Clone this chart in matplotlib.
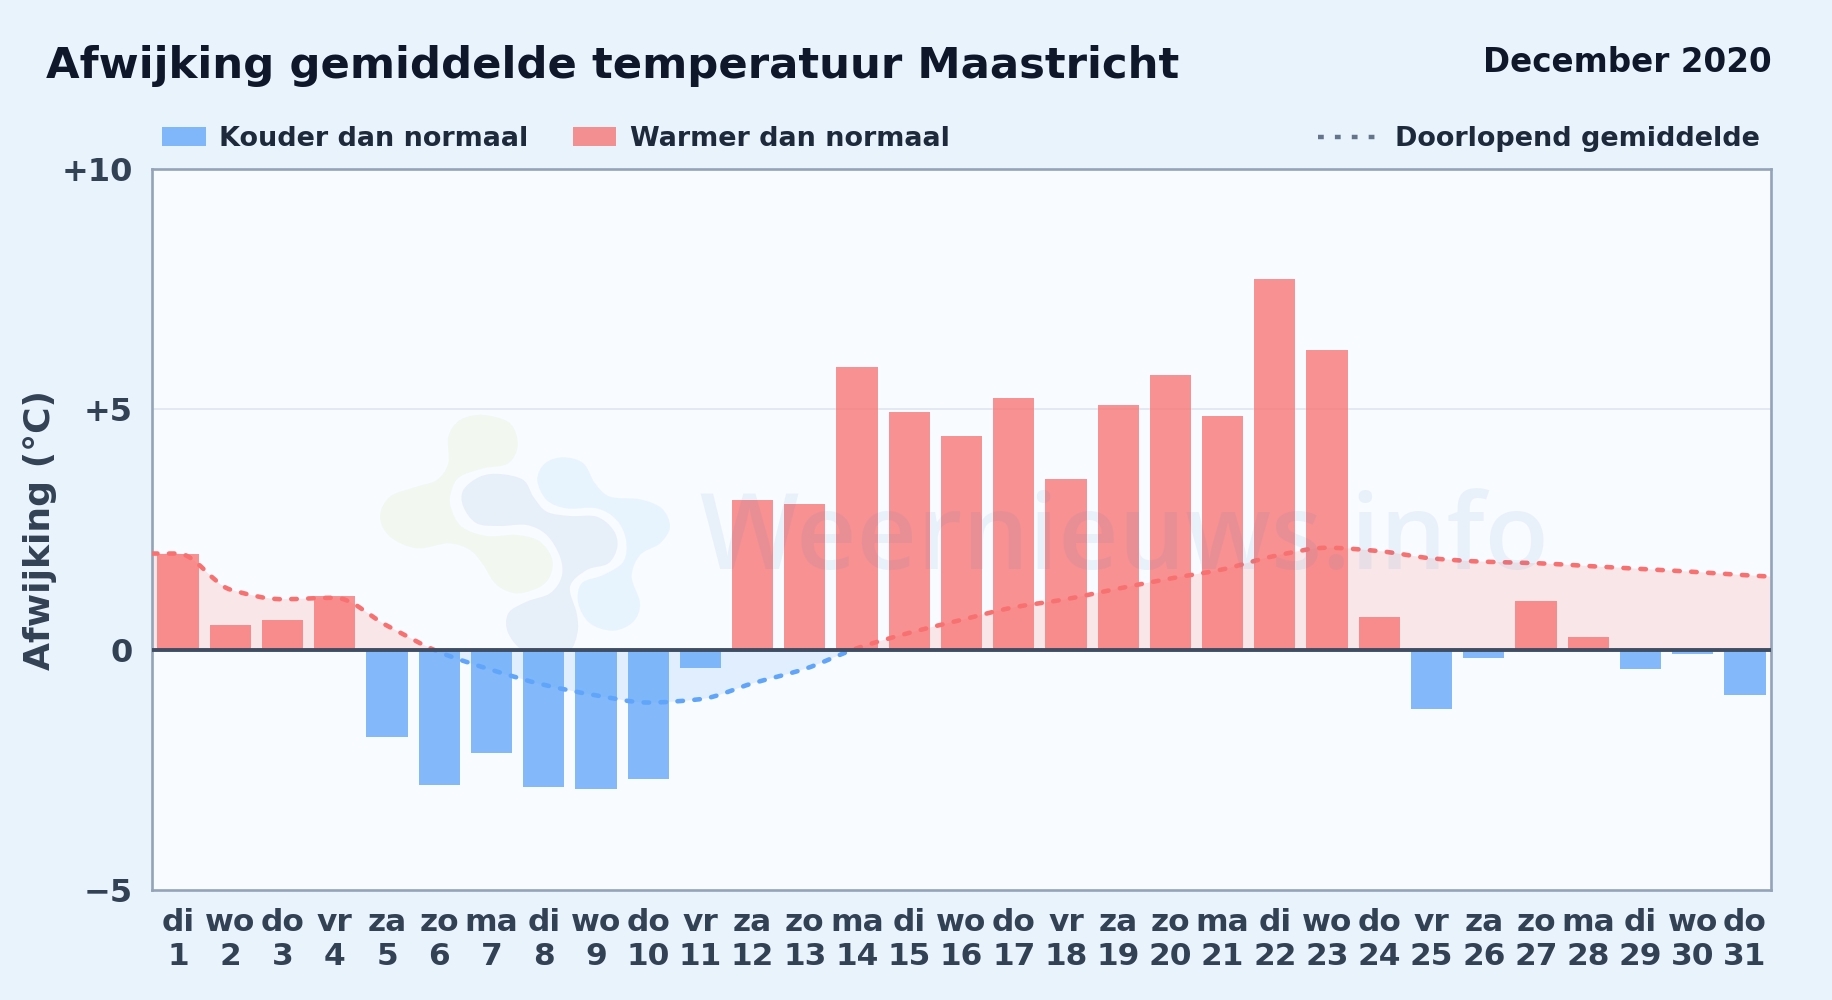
import numpy as np
from matplotlib import pyplot as plt
from matplotlib.lines import Line2D
from matplotlib.patches import PathPatch, Rectangle
from matplotlib.path import Path

plt.rcParams['font.family'] = ['DejaVu Sans']

weekdays = ['di', 'wo', 'do', 'vr', 'za', 'zo', 'ma'] * 5
weekdays = weekdays[:31]
days = list(range(1, 32))
deviation = [2.0, 0.51, 0.61, 1.12, -1.82, -2.82, -2.14, -2.85, -2.9, -2.7, -0.39,
             3.11, 3.04, 5.89, 4.94, 4.45, 5.23, 3.55, 5.08, 5.72, 4.87, 7.71, 6.23,
             0.68, -1.24, -0.17, 1.02, 0.27, -0.41, -0.1, -0.95]
running_mean = [2.0, 1.25, 1.05, 1.08, 0.5, -0.05, -0.42, -0.73, -0.95, -1.1, -1.03,
                -0.7, -0.4, 0.03, 0.35, 0.62, 0.88, 1.05, 1.27, 1.48, 1.67, 1.95, 2.12,
                2.05, 1.9, 1.83, 1.8, 1.74, 1.68, 1.62, 1.55]
mean_left_edge = 2.0
mean_right_edge = 1.52
y_ticks = [-5, 0, 5, 10]
y_labels = ['\u22125', '0', '+5', '+10']

# logo outlines, traced in pixels of a 3x crop starting at (340, 380)
logo_green = [(430, 105), (510, 130), (533, 195), (505, 250), (430, 265), (360, 290), (335, 330),
              (332, 380), (365, 440), (440, 468), (530, 465), (600, 485), (638, 545), (615, 610),
              (535, 640), (470, 615), (430, 555), (390, 510), (325, 490), (230, 505), (150, 470),
              (120, 410), (150, 350), (230, 320), (290, 300), (325, 250), (325, 170), (360, 120)]
logo_navy = [(480, 282), (550, 300), (580, 350), (620, 395), (690, 408), (770, 410), (820, 450),
             (832, 500), (805, 550), (740, 570), (690, 620), (710, 700), (712, 760), (680, 815),
             (560, 815), (505, 760), (505, 700), (560, 665), (630, 640), (665, 590), (660, 530),
             (620, 465), (560, 435), (480, 438), (410, 430), (370, 380), (370, 330), (420, 290)]
logo_blue = [(670, 232), (730, 250), (765, 310), (810, 350), (900, 358), (965, 385), (990, 440),
             (960, 490), (900, 525), (875, 590), (900, 670), (880, 725), (820, 752), (750, 730),
             (715, 670), (725, 610), (790, 585), (850, 545), (858, 480), (830, 420), (770, 385),
             (680, 385), (620, 360), (592, 300), (615, 250)]

W, H = 1832, 1000
RED = '#f87171'
BLUE = '#60a5fa'
BG = '#e8f3fc'
PLOT_BG = '#f8fbff'


def px(x, y):
    return x / W, 1 - y / H


def smooth_path(x, y):
    # monotone cubic through the points, as bezier segments
    x = np.asarray(x, float)
    y = np.asarray(y, float)
    h = np.diff(x)
    s = np.diff(y) / h
    m = np.zeros(len(x))
    m[0], m[-1] = s[0], s[-1]
    for i in range(1, len(x) - 1):
        if s[i - 1] * s[i] > 0:
            m[i] = 2 * s[i - 1] * s[i] / (s[i - 1] + s[i])
    verts = [(x[0], y[0])]
    codes = [Path.MOVETO]
    for i in range(len(h)):
        verts += [(x[i] + h[i] / 3, y[i] + m[i] * h[i] / 3),
                  (x[i + 1] - h[i] / 3, y[i + 1] - m[i + 1] * h[i] / 3),
                  (x[i + 1], y[i + 1])]
        codes += [Path.CURVE4] * 3
    return verts, codes


def blob_path(points):
    # closed catmull-rom curve through the outline
    p = np.array([(340 + a / 3, 380 + b / 3) for a, b in points])
    n = len(p)
    verts = [tuple(p[0])]
    codes = [Path.MOVETO]
    for i in range(n):
        p0, p1, p2, p3 = p[i - 1], p[i], p[(i + 1) % n], p[(i + 2) % n]
        verts += [tuple(p1 + (p2 - p0) / 6), tuple(p2 - (p3 - p1) / 6), tuple(p2)]
        codes += [Path.CURVE4] * 3
    return Path(verts, codes)


fig = plt.figure(figsize=(W / 100, H / 100), dpi=100, facecolor=BG)

# logo axes sits under the transparent chart axes
logo_ax = fig.add_axes([0, 0, 1, 1], facecolor='none', zorder=0)
logo_ax.set_xlim(0, W)
logo_ax.set_ylim(H, 0)
logo_ax.axis('off')
logo_ax.add_patch(Rectangle((152, 169), 1771 - 152, 721, color=PLOT_BG, zorder=0))
for outline, color in [(logo_green, '#f2f8f0'), (logo_blue, '#e7f4fe'), (logo_navy, '#e7eff8')]:
    logo_ax.add_patch(PathPatch(blob_path(outline), facecolor=color, edgecolor='none', zorder=1))
logo_ax.add_patch(Rectangle((300, 649), 500, 60, color=PLOT_BG, zorder=2))

ax = fig.add_axes([152 / W, 1 - 890 / H, (1771 - 152) / W, (890 - 169) / H], zorder=1)
ax.patch.set_visible(False)

pos = np.arange(31)
ax.set_xlim(-0.5, 30.5)
ax.set_ylim(-5, 10)

# area and line of the running mean, split at zero
line_x = [-0.5] + list(pos) + [30.5]
line_y = [mean_left_edge] + running_mean + [mean_right_edge]
verts, codes = smooth_path(line_x, line_y)
area = Path(verts + [(30.5, 0), (-0.5, 0), (-0.5, line_y[0])],
            codes + [Path.LINETO, Path.LINETO, Path.CLOSEPOLY])
line = Path(verts, codes)
for color, low in [(RED, 0), (BLUE, -5)]:
    clip = Rectangle((-0.5, low), 31, 10 if low == 0 else 5, transform=ax.transData)
    a = ax.add_patch(PathPatch(area, facecolor=color, edgecolor='none', alpha=0.15, zorder=1))
    a.set_clip_path(clip)

colors = [RED if v >= 0 else BLUE for v in deviation]
ax.bar(pos, deviation, width=0.79, color=colors, alpha=0.77, linewidth=0, zorder=2)

# watermark
fig.text(*px(1124, 569), 'Weernieuws.info', family='Open Sans', fontweight='semibold', fontsize=75.5,
         color='#2f80c8', alpha=0.08, ha='center', va='baseline', zorder=3)

for color, low in [(RED, 0), (BLUE, -5)]:
    clip = Rectangle((-0.5, low), 31, 10 if low == 0 else 5, transform=ax.transData)
    p = ax.add_patch(PathPatch(line, facecolor='none', edgecolor=color, linewidth=3.3,
                               linestyle=(0, (1.2, 2.5)), capstyle='round', zorder=4))
    p.set_clip_path(clip)

ax.axhline(5, color='#e2e8f0', lw=1.3, zorder=0.5)
ax.axhline(0, color='#3f4d63', lw=2.8, zorder=5)

for spine in ax.spines.values():
    spine.set_color('#94a3b8')
    spine.set_linewidth(1.9)

ax.set_yticks(y_ticks)
ax.set_yticklabels(y_labels, fontsize=23, fontweight='bold', color='#334155')
ax.set_xticks(pos)
ax.set_xticklabels([f'{d}\n{n}' for d, n in zip(weekdays, days)], fontsize=22.5, fontweight='bold',
                   color='#334155', linespacing=1.2)
ax.tick_params(axis='both', length=0)
ax.tick_params(axis='y', pad=14)
ax.tick_params(axis='x', pad=13)

fig.text(*px(40.5, 530), 'Afwijking (°C)', rotation=90, fontsize=26, fontweight='bold',
         color='#334155', ha='center', va='center')
fig.text(*px(46, 66), 'Afwijking gemiddelde temperatuur Maastricht', fontsize=31.2, fontweight='bold',
         color='#0f172a', ha='left', va='center')
fig.text(*px(1772, 62), 'December 2020', fontsize=23.5, fontweight='bold', color='#0f172a',
         ha='right', va='center')

# legend
fig.add_artist(Rectangle(px(162, 146), 44 / W, 19 / H, transform=fig.transFigure, color=BLUE, alpha=0.77, linewidth=0))
fig.add_artist(Rectangle(px(573, 146), 43 / W, 19 / H, transform=fig.transFigure, color=RED, alpha=0.77, linewidth=0))
fig.text(*px(219, 139), 'Kouder dan normaal', fontsize=19.45, fontweight='bold', color='#1e293b', va='center')
fig.text(*px(630, 139), 'Warmer dan normaal', fontsize=19.45, fontweight='bold', color='#1e293b', va='center')
x0, y0 = px(1318, 137)
x1, _ = px(1376, 137)
fig.add_artist(Line2D([x0, x1], [y0, y0], transform=fig.transFigure, color='#64748b', lw=3.2,
                      linestyle=(0, (1.3, 2.5))))
fig.text(*px(1395, 139), 'Doorlopend gemiddelde', fontsize=19.45, fontweight='bold', color='#1e293b', va='center')

fig.savefig('out.png', dpi=100, facecolor=BG)
